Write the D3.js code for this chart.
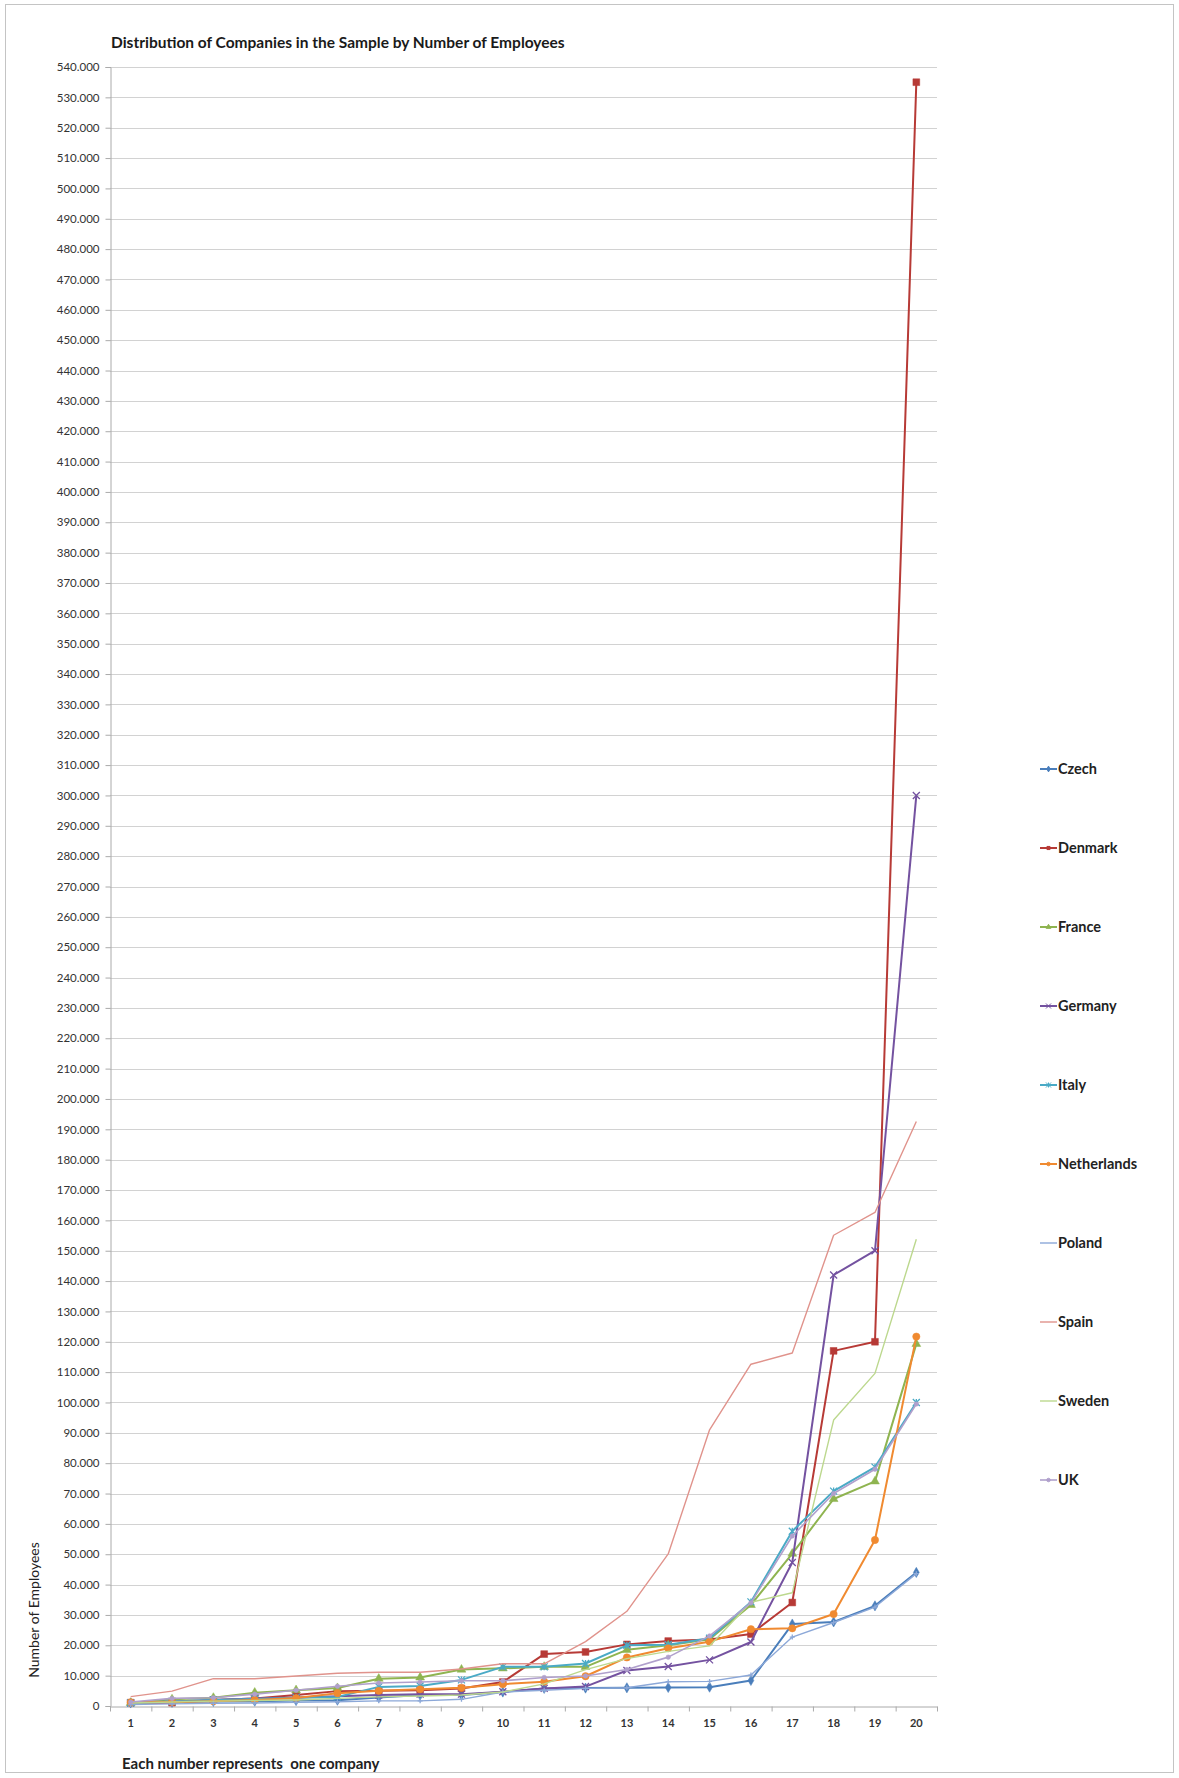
<!DOCTYPE html>
<html>
<head>
<meta charset="utf-8">
<script src="https://cdn.jsdelivr.net/npm/d3@7"></script>
<style>
  html, body { margin: 0; padding: 0; background: #fff; }
  svg { display: block; }
  text { font-family: Lato, "Open Sans", sans-serif; }
</style>
</head>
<body>
<svg id="chart" width="1179" height="1778"></svg>
<script>
// Companies ranked 1..20 per country, by number of employees
const companies = d3.range(1, 21);

const czech       = [1000, 1200, 1500, 1600, 1800, 1900, 2800, 3600, 3600, 4600, 5800, 5900, 6000, 6100, 6200, 8400, 27000, 27700, 33000, 44000];
const denmark     = [1100, 1100, 2000, 2500, 3600, 4900, 5000, 5200, 5800, 7900, 17100, 17800, 20300, 21400, 21900, 23700, 34100, 117000, 120000, 535000];
const france      = [1000, 2200, 2700, 4400, 5200, 5900, 9000, 9400, 12000, 12400, 12900, 12900, 18500, 20000, 22000, 33300, 50200, 68200, 74000, 119300];
const germany     = [1000, 1500, 2000, 2500, 2800, 3200, 3600, 3900, 3900, 4700, 5800, 6400, 11700, 13000, 15200, 21100, 47300, 142000, 150000, 300000];
const italy       = [1000, 1500, 2000, 2300, 2700, 3000, 6300, 6600, 8600, 12900, 12900, 14000, 20000, 20200, 22300, 34300, 57600, 70800, 78700, 100000];
const netherlands = [1200, 1300, 1600, 2000, 2600, 4200, 5000, 5500, 6000, 7200, 8000, 9800, 16000, 19000, 21200, 25300, 25600, 30300, 54700, 121700];
const poland      = [500, 700, 900, 1000, 1200, 1400, 1700, 1700, 2200, 4600, 5200, 5800, 6000, 8000, 8100, 10200, 22700, 27500, 32600, 43600];
const spain       = [3100, 4900, 9000, 9000, 9900, 10800, 11100, 11100, 12200, 13900, 13900, 21200, 31200, 50100, 91000, 112600, 116300, 155100, 162600, 192600];
const sweden      = [1000, 1300, 1600, 1800, 2000, 2500, 3000, 3300, 3600, 4600, 7300, 12000, 15600, 18000, 19800, 34200, 37300, 94200, 109600, 153800];
const uk          = [1300, 2500, 2700, 3900, 5200, 6500, 7600, 7900, 8300, 8300, 9400, 9900, 12000, 16100, 23100, 34000, 56000, 70000, 78000, 99500];

const yTicks = d3.range(0, 540001, 10000);

const seriesNames = ["Czech", "Denmark", "France", "Germany", "Italy", "Netherlands", "Poland", "Spain", "Sweden", "UK"];
const seriesValues = [czech, denmark, france, germany, italy, netherlands, poland, spain, sweden, uk];

// Line style per country
const styles = {
  "Czech":       { color: "#4a7ebb", width: 2,   marker: "diamond", size: 30 },
  "Denmark":     { color: "#b73a36", width: 2,   marker: "square",  size: 46 },
  "France":      { color: "#8fb450", width: 2,   marker: "triangle",size: 34 },
  "Germany":     { color: "#7452a0", width: 2,   marker: "cross",   size: 3.5 },
  "Italy":       { color: "#4aaac6", width: 2,   marker: "star",    size: 3.5 },
  "Netherlands": { color: "#f08a30", width: 2,   marker: "circle",  size: 42 },
  "Poland":      { color: "#8ca8d8", width: 1.4, marker: "plus",    size: 2.5 },
  "Spain":       { color: "#e0938c", width: 1.4, marker: "none",    size: 0  },
  "Sweden":      { color: "#bcd88e", width: 1.4, marker: "none",    size: 0  },
  "UK":          { color: "#b0a0cc", width: 1.6, marker: "dot",     size: 16 }
};

const svg = d3.select("#chart");

// outer frame
svg.append("rect")
  .attr("x", 5.5).attr("y", 4.5).attr("width", 1168).attr("height", 1768)
  .attr("fill", "none").attr("stroke", "#c4c4c4").attr("stroke-width", 1);

const x = d3.scaleBand().domain(companies).range([110, 937]);
const cx = d => x(d) + x.bandwidth() / 2;
const y = d3.scaleLinear().domain([0, 540000]).range([1706, 67]);

// gridlines
svg.append("g")
  .selectAll("line")
  .data(yTicks.filter(d => d > 0))
  .join("line")
  .attr("x1", 110).attr("x2", 937)
  .attr("y1", d => Math.round(y(d)) + 0.5).attr("y2", d => Math.round(y(d)) + 0.5)
  .attr("stroke", "#d2d2d2").attr("stroke-width", 1.2);

// y axis
const fmt = d => d === 0 ? "0" : d3.format(",")(d).replace(/,/g, ".");
const yAxis = svg.append("g")
  .attr("transform", "translate(110.5,0)")
  .call(d3.axisLeft(y).tickValues(yTicks).tickFormat(fmt).tickSize(5).tickPadding(6));
yAxis.select(".domain").attr("stroke", "#aaaaaa");
yAxis.selectAll(".tick line").attr("stroke", "#aaaaaa");
yAxis.selectAll(".tick text")
  .attr("fill", "#333").style("font-size", "11.5px").style("font-family", "Lato, sans-serif");

// x axis
const xAxis = svg.append("g")
  .attr("transform", "translate(0,1706.5)")
  .call(d3.axisBottom(x).tickSize(0).tickPadding(13));
xAxis.select(".domain").attr("stroke", "#aaaaaa");
xAxis.selectAll(".tick text")
  .attr("fill", "#333").style("font-size", "11px").style("font-weight", "bold")
  .style("font-family", "Lato, sans-serif");
// tick marks between categories
xAxis.append("g")
  .selectAll("line")
  .data(d3.range(0, 21))
  .join("line")
  .attr("x1", i => 110 + i * x.step() + 0.5)
  .attr("x2", i => 110 + i * x.step() + 0.5)
  .attr("y1", 0).attr("y2", 5)
  .attr("stroke", "#aaaaaa");

// lines and markers
const line = d3.line().x((d, i) => cx(companies[i])).y(d => y(d));
const markerPath = (type, s) => {
  switch (type) {
    case "diamond":  return d3.symbol(d3.symbolDiamond, s)();
    case "square":   return d3.symbol(d3.symbolSquare, s)();
    case "triangle": return d3.symbol(d3.symbolTriangle, s)();
    case "circle":   return d3.symbol(d3.symbolCircle, s)();
    case "dot":      return d3.symbol(d3.symbolCircle, s)();
    case "cross":    return `M${-s},${-s}L${s},${s}M${-s},${s}L${s},${-s}`;
    case "star":     return `M${-s},${-s}L${s},${s}M${-s},${s}L${s},${-s}M0,${-s}L0,${s}`;
    case "plus":     return `M${-s},0L${s},0M0,${-s}L0,${s}`;
    default:         return "";
  }
};
const strokedMarkers = new Set(["cross", "star", "plus"]);

const plot = svg.append("g");
seriesNames.forEach((name, k) => {
  const st = styles[name];
  const vals = seriesValues[k];
  const g = plot.append("g");
  g.append("path")
    .attr("d", line(vals))
    .attr("fill", "none")
    .attr("stroke", st.color)
    .attr("stroke-width", st.width)
    .attr("stroke-linejoin", "round");
  if (st.marker !== "none") {
    g.selectAll("path.m")
      .data(vals)
      .join("path")
      .attr("class", "m")
      .attr("transform", (d, i) => `translate(${cx(companies[i])},${y(d)})`)
      .attr("d", markerPath(st.marker, st.size))
      .attr("fill", strokedMarkers.has(st.marker) ? "none" : st.color)
      .attr("stroke", st.color)
      .attr("stroke-width", strokedMarkers.has(st.marker) ? 1.3 : 0.5);
  }
});

// title
svg.append("text")
  .attr("x", 111).attr("y", 48)
  .style("font-size", "15.5px").style("font-weight", "bold").attr("fill", "#1a1a1a")
  .text("Distribution of Companies in the Sample by Number of Employees");

// axis titles
svg.append("text")
  .attr("transform", "translate(39,1610) rotate(-90)")
  .attr("text-anchor", "middle")
  .style("font-size", "14px").attr("fill", "#222")
  .text("Number of Employees");

svg.append("text")
  .attr("x", 122).attr("y", 1769)
  .style("font-size", "15px").style("font-weight", "bold").attr("fill", "#222")
  .style("white-space", "pre")
  .attr("xml:space", "preserve")
  .text("Each number represents  one company");

// legend
const legend = svg.append("g").attr("transform", "translate(1040,0)");
seriesNames.forEach((name, k) => {
  const st = styles[name];
  const ly = 769 + k * 79;
  const item = legend.append("g").attr("transform", `translate(0,${ly})`);
  item.append("line")
    .attr("x1", 0).attr("x2", 17).attr("y1", 0).attr("y2", 0)
    .attr("stroke", st.color).attr("stroke-width", st.width);
  if (st.marker !== "none" && st.marker !== "plus") {
    item.append("path")
      .attr("transform", "translate(8.5,0)")
      .attr("d", markerPath(st.marker, strokedMarkers.has(st.marker) ? 2.5 : Math.min(st.size, 16) * 0.6))
      .attr("fill", st.color).attr("stroke", st.color).attr("stroke-width", 1);
  }
  item.append("text")
    .attr("x", 18).attr("y", 5)
    .style("font-size", "14.5px").style("font-weight", "bold").attr("fill", "#222")
    .text(name);
});
</script>
</body>
</html>
